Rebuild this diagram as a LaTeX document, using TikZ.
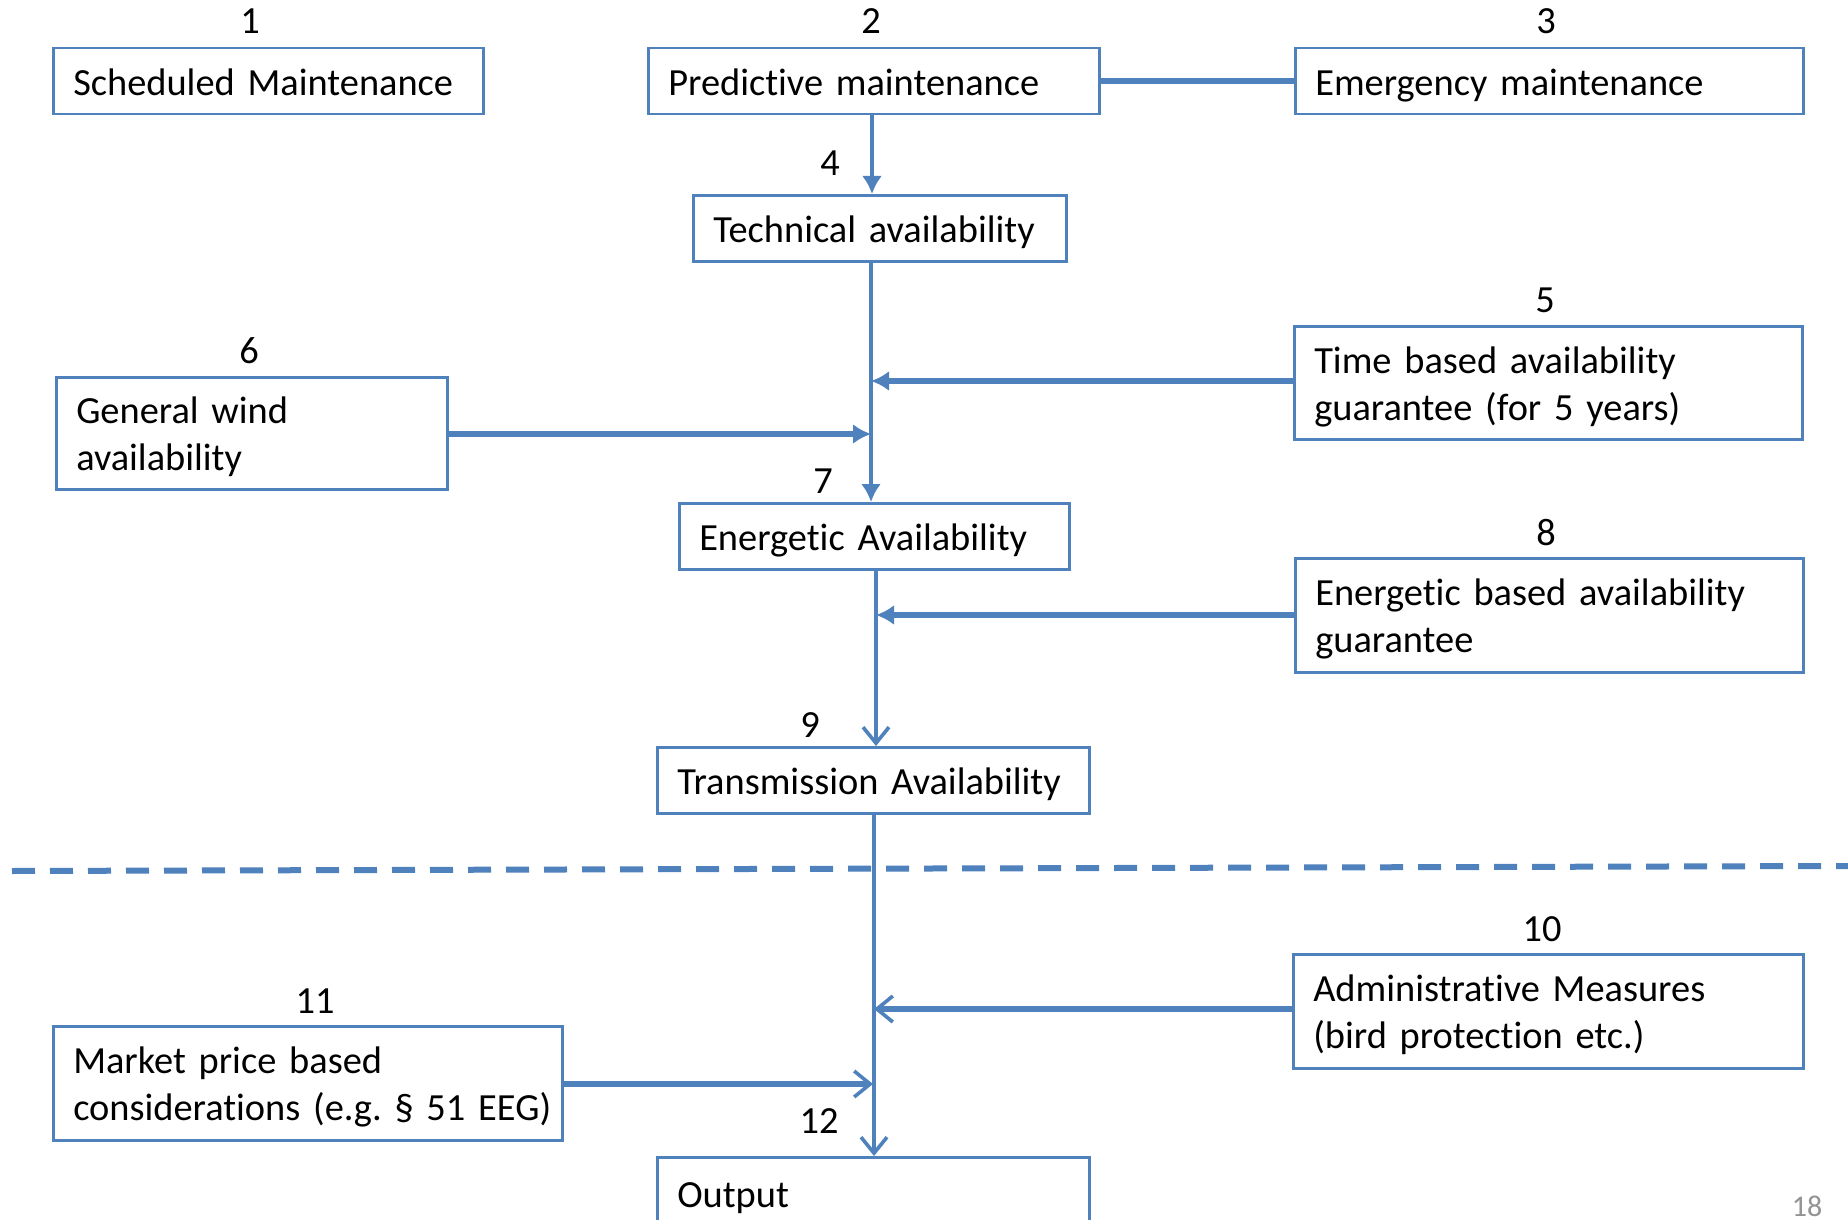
\documentclass[tikz,border=0pt]{standalone}
\usepackage{fontspec}
\setmainfont{Carlito}[Ligatures=NoCommon, WordSpace=0.92]
\usetikzlibrary{arrows.meta}
\definecolor{ob}{HTML}{4F81BD}
\newcommand\mystrut{\rule[-4.75pt]{0pt}{23.5pt}}
\begin{document}
\begin{tikzpicture}[x=0.5pt,y=-0.5pt,
  box/.style={draw=ob, line width=1.25pt, rectangle, anchor=north west, inner xsep=10pt, inner ysep=0pt, align=left, font=\fontsize{19.2}{23.5}\selectfont},
  num/.style={font=\fontsize{19.2}{23.5}\selectfont, inner sep=0pt},
  conn/.style={draw=ob, line width=1.8pt},
  thick conn/.style={draw=ob, line width=3pt},
  fill tip/.style={-{Latex[length=9pt,width=10pt]}},
  open tip/.style={-{Straight Barb[length=8pt,width=13pt,line width=1.8pt]}}
]
\useasboundingbox (0,0) rectangle (1848,1220);
\clip (0,0) rectangle (1848,1220);
\fill[white] (0,0) rectangle (1848,1220);

% boxes
\node[box, text width=195pt, minimum height=33pt] (b1) at (52,47) {\mystrut Scheduled Maintenance};
\node[box, text width=205.5pt, minimum height=33pt] (b2) at (647,47) {\mystrut Predictive maintenance};
\node[box, text width=234pt, minimum height=33pt] (b3) at (1294,47) {\mystrut Emergency maintenance};
\node[box, text width=166.5pt, minimum height=33pt] (b4) at (692,194) {\mystrut Technical availability};
\node[box, text width=234pt, minimum height=56.5pt] (b5) at (1293,325) {\mystrut Time based availability\\\mystrut guarantee (for 5 years)};
\node[box, text width=175.5pt, minimum height=56pt] (b6) at (55,376) {\mystrut General wind\\\mystrut availability};
\node[box, text width=175pt, minimum height=33pt] (b7) at (678,502) {\mystrut Energetic Availability};
\node[box, text width=234pt, minimum height=57pt] (b8) at (1294,557) {\mystrut Energetic based availability\\\mystrut guarantee};
\node[box, text width=196pt, minimum height=33pt] (b9) at (656,746) {\mystrut Transmission Availability};
\node[box, text width=235pt, minimum height=57pt] (b10) at (1292,953) {\mystrut Administrative Measures\\\mystrut (bird protection etc.)};
\node[box, text width=234.5pt, minimum height=57pt] (b11) at (52,1025) {\mystrut Market price based\\\mystrut\mbox{considerations (e.g.~\S~51~EEG)}};
\node[box, text width=196pt, minimum height=36pt] (b12) at (656,1156) {\mystrut Output};

% numbers
\node[num] (n1) at (250,21) {1};
\node[num] (n2) at (871,21) {2};
\node[num] (n3) at (1546,21) {3};
\node[num] (n4) at (830,163) {4};
\node[num] (n5) at (1545,300) {5};
\node[num] (n6) at (249,351) {6};
\node[num] (n7) at (823,481) {7};
\node[num] (n8) at (1546,533) {8};
\node[num] (n9) at (810,725) {9};
\node[num] (n10) at (1542,929) {10};
\node[num] (n11) at (315,1001) {11};
\node[num] (n12) at (819,1121) {12};
\node[text=gray!85, font=\fontsize{15}{18}\selectfont, inner sep=0pt] (pg) at (1807,1206) {18};

% junction coordinates
\coordinate (j2) at (872,0);
\coordinate (j5) at (871,381);
\coordinate (j6) at (871,434);
\coordinate (j8) at (876,615);
\coordinate (j10) at (874,1009);
\coordinate (j11) at (873,1084);

% connectors
\draw[conn, fill tip] (b2.south -| j2) -- (b4.north -| j2);
\draw[thick conn] (b2.east) -- (b3.west);
\draw[conn, fill tip] (b4.south -| j5) -- (b7.north -| j5);
\draw[thick conn, fill tip] (b5.west |- j5) -- (j5);
\draw[thick conn, fill tip] (b6.east |- j6) -- (j6);
\draw[conn, open tip] (b7.south -| j8) -- (b9.north -| j8);
\draw[thick conn, fill tip] (b8.west |- j8) -- (j8);
\draw[conn, open tip] (b9.south -| j10) -- (b12.north -| j10);
\draw[thick conn, open tip] (b10.west |- j10) -- (j10);
\draw[thick conn, open tip] (b11.east |- j11) -- (j11);

% dashed separator
\coordinate (dl) at (12,871);
\coordinate (dr) at (1848,866);
\draw[draw=ob, line width=3pt, dash pattern=on 11.5pt off 7.5pt] (dl) -- (dr);
\end{tikzpicture}
\end{document}
